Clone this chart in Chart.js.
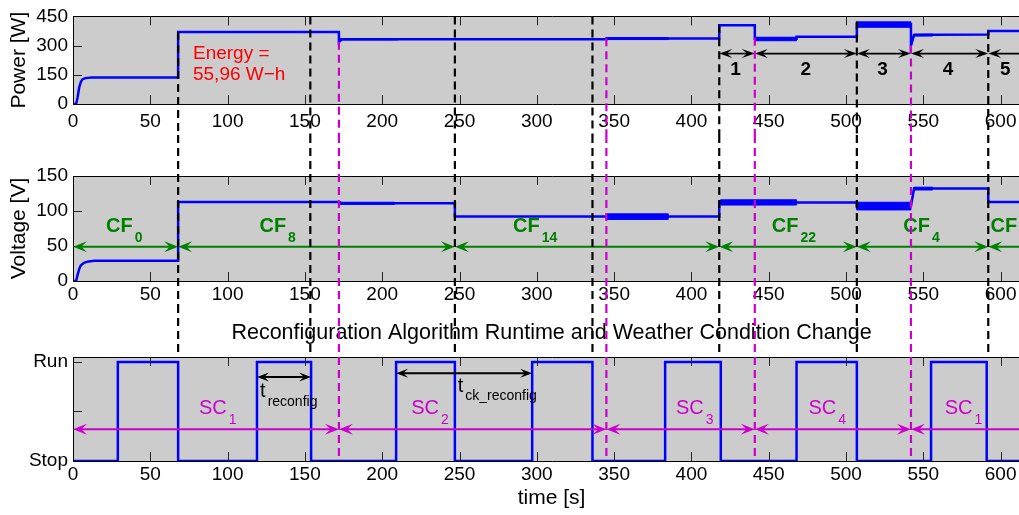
<!DOCTYPE html>
<html>
<head>
<meta charset="utf-8">
<script src="https://cdn.jsdelivr.net/npm/chart.js@4.4.0/dist/chart.umd.min.js"></script>
<style>
  html, body { margin: 0; padding: 0; background: #fff; overflow: hidden; }
  #wrap { position: relative; width: 1019px; height: 515px; overflow: hidden; }
  canvas { position: absolute; left: 0; }
</style>
</head>
<body>
<div id="wrap">
  <canvas id="powerChart" width="1030" height="135" style="top:0px"></canvas>
  <canvas id="voltChart" width="1030" height="170" style="top:135px"></canvas>
  <canvas id="runChart" width="1030" height="210" style="top:305px"></canvas>
</div>
<script>
// Potência [W] ao longo do tempo [s]
const powerTime = [0, 2, 3, 4, 5, 6, 8, 12, 68, 68, 172, 172, 174, 345, 345, 418, 418, 441, 441, 468, 468, 507, 507, 542, 542, 544, 556, 592, 592, 625];
const powerW    = [0, 0, 35, 85, 112, 126, 133, 136, 136, 370, 370, 318, 332, 332, 337, 337, 405, 405, 335, 335, 345, 345, 410, 410, 300, 354, 356, 357, 375, 375];
// trechos com oscilação rápida (faixa min/max)
const powerBandStart = [172, 345, 441, 507, 544];
const powerBandEnd   = [210, 385, 468, 542, 556];
const powerBandLow   = [329, 331, 325, 394, 349];
const powerBandHigh  = [336, 341, 343, 422, 359];

// Tensão [V]
const voltTime = [0, 2, 3, 4, 5, 7, 10, 14, 68, 68, 172, 174, 247, 247, 418, 418, 507, 507, 542, 544, 592, 592, 625];
const voltV    = [0, 0, 9, 17, 22, 26, 28, 29, 29, 113, 113, 111, 111, 92, 92, 112, 112, 107, 107, 132, 132, 113, 113];
const voltBandStart = [172, 345, 419, 507, 544];
const voltBandEnd   = [208, 385, 468, 542, 556];
const voltBandLow   = [109.5, 88, 108.5, 101.5, 130];
const voltBandHigh  = [112.5, 96, 116, 112.5, 134];

// Algoritmo de reconfiguração: 0 = Stop, 1 = Run
const runTime  = [0, 29, 68, 119, 154, 209, 247, 297, 336, 383, 419, 468, 507, 555, 591, 625];
const runState = [0, 1, 0, 1, 0, 1, 0, 1, 0, 1, 0, 1, 0, 1, 0, 0];
const runTickLabels = ['Stop', '', 'Run'];

// Eventos (linhas tracejadas)
const reconfigTimes = [68, 153.5, 247, 336, 418, 507, 592];
const reconfigTopW  = [370, 450, 450, 450, 405, 424, 375];
const weatherTimes  = [172, 345, 441, 542];
const weatherTopW   = [320, 338, 340, 300];

// Intervalos e configurações
const intervalEdges  = [418, 441, 507, 542, 592, 650];
const intervalLabels = ['1', '2', '3', '4', '5'];
const cfEdges = [0, 68, 247, 418, 507, 592, 650];
const cfSubs  = ['0', '8', '14', '22', '4', '8'];
const scEdges = [0, 172, 345, 441, 542, 650];
const scSubs  = ['1', '2', '3', '4', '1'];

const FONT = "'Liberation Sans', Arial, sans-serif";
const BLUE = '#0000ff';
const MAG = '#cc00cc';
const GREEN = '#008000';
const X_MAX = 619;

Chart.defaults.font.family = FONT;
Chart.defaults.color = '#000';

const pts = (xs, ys) => xs.map((x, i) => ({ x: x, y: ys[i] }));

const bandSets = (start, end, low, high) => start.map((t0, i) => ({
  data: [{x: t0, y: low[i]}, {x: end[i], y: low[i]}, {x: end[i], y: high[i]}, {x: t0, y: high[i]}, {x: t0, y: low[i]}],
  borderColor: BLUE, backgroundColor: BLUE, borderWidth: 1, fill: 'shape', pointRadius: 0
}));

function dashed(ctx, x, y0, y1, color) {
  ctx.save();
  ctx.strokeStyle = color;
  ctx.lineWidth = 2.2;
  ctx.setLineDash([8, 5]);
  ctx.beginPath();
  ctx.moveTo(x, y0);
  ctx.lineTo(x, y1);
  ctx.stroke();
  ctx.restore();
}

function head(ctx, x, y, dir, L, W) {
  ctx.beginPath();
  ctx.moveTo(x, y);
  ctx.lineTo(x - dir * L, y - W);
  ctx.lineTo(x - dir * L * 0.6, y);
  ctx.lineTo(x - dir * L, y + W);
  ctx.closePath();
  ctx.fill();
}

function arrow(ctx, x0, x1, y, color, lw, L, W) {
  ctx.save();
  ctx.strokeStyle = color;
  ctx.fillStyle = color;
  ctx.lineWidth = lw;
  ctx.beginPath();
  ctx.moveTo(x0 + L * 0.5, y);
  ctx.lineTo(x1 - L * 0.5, y);
  ctx.stroke();
  head(ctx, x0, y, -1, L, W);
  head(ctx, x1, y, 1, L, W);
  ctx.restore();
}

function subText(ctx, x, y, ySub, main, sub, color, size, subSize, bold) {
  ctx.save();
  ctx.fillStyle = color;
  ctx.textBaseline = 'alphabetic';
  ctx.textAlign = 'left';
  const w = bold ? 'bold ' : '';
  ctx.font = w + size + 'px ' + FONT;
  ctx.fillText(main, x, y);
  const mw = ctx.measureText(main).width;
  ctx.font = w + subSize + 'px ' + FONT;
  ctx.fillText(sub, x + mw + 2, ySub);
  ctx.restore();
}

// fundo cinza, moldura e marcas internas (estilo MATLAB)
const framePlugin = {
  id: 'frame',
  beforeDraw(chart) {
    const { ctx, chartArea: a } = chart;
    ctx.save();
    ctx.fillStyle = '#cccccc';
    ctx.fillRect(a.left, a.top, a.right - a.left + 20, a.bottom - a.top);
    ctx.restore();
  },
  afterDatasetsDraw(chart) {
    const { ctx, chartArea: a } = chart;
    ctx.save();
    ctx.strokeStyle = '#262626';
    ctx.lineWidth = 1;
    ctx.beginPath();
    chart.scales.x.ticks.forEach((t) => {
      const x = Math.round(chart.scales.x.getPixelForValue(t.value)) + 0.5;
      ctx.moveTo(x, a.bottom);
      ctx.lineTo(x, a.bottom - 9);
      ctx.moveTo(x, a.top);
      ctx.lineTo(x, a.top + 9);
    });
    chart.scales.y.ticks.forEach((t) => {
      const y = Math.round(chart.scales.y.getPixelForValue(t.value)) + 0.5;
      ctx.moveTo(a.left, y);
      ctx.lineTo(a.left + 9, y);
    });
    ctx.stroke();
    ctx.strokeStyle = '#000';
    ctx.beginPath();
    ctx.moveTo(a.right + 20, Math.round(a.top) + 0.5);
    ctx.lineTo(Math.round(a.left) + 0.5, Math.round(a.top) + 0.5);
    ctx.lineTo(Math.round(a.left) + 0.5, Math.round(a.bottom) + 0.5);
    ctx.lineTo(a.right + 20, Math.round(a.bottom) + 0.5);
    ctx.stroke();
    ctx.restore();
  }
};

function makeChart(id, cfg) {
  return new Chart(document.getElementById(id), {
    type: 'line',
    data: { datasets: cfg.datasets },
    options: {
      responsive: false,
      animation: false,
      devicePixelRatio: 1,
      layout: { padding: { top: cfg.padTop, left: 0, right: 0, bottom: 0 } },
      elements: { point: { radius: 0 }, line: { tension: 0 } },
      plugins: {
        legend: { display: false },
        tooltip: { enabled: false },
        title: cfg.title || { display: false }
      },
      scales: {
        x: {
          type: 'linear',
          min: 0,
          max: X_MAX,
          grid: { display: false, drawTicks: false },
          border: { display: false },
          ticks: { stepSize: 50, includeBounds: false, padding: cfg.xPad, maxRotation: 0, autoSkip: false, font: { size: 19 }, color: '#000' },
          title: cfg.xTitle || { display: false },
          afterFit: (s) => { s.height = cfg.xHeight; }
        },
        y: {
          min: cfg.yMin,
          max: cfg.yMax,
          grid: { display: false, drawTicks: false },
          border: { display: false },
          ticks: Object.assign({ stepSize: cfg.yStep, includeBounds: false, padding: 5, font: { size: 19 }, color: '#000' }, cfg.yTicks || {}),
          title: cfg.yTitle || { display: false },
          afterFit: (s) => { s.width = 73; }
        }
      }
    },
    plugins: [framePlugin, cfg.extra]
  });
}

// Gráfico 1: potência
makeChart('powerChart', {
  padTop: 15, xHeight: 31, xPad: 6, yMin: 0, yMax: 450, yStep: 150,
  yTitle: { display: true, text: 'Power [W]', font: { size: 21 }, color: '#000', padding: { top: 7, bottom: 0 } },
  datasets: [
    { data: pts(powerTime, powerW), borderColor: BLUE, borderWidth: 2.5, fill: false, pointRadius: 0 }
  ].concat(bandSets(powerBandStart, powerBandEnd, powerBandLow, powerBandHigh)),
  extra: {
    id: 'powerExtra',
    afterDatasetsDraw(chart) {
      const ctx = chart.ctx;
      const X = (v) => chart.scales.x.getPixelForValue(v);
      const Y = (v) => chart.scales.y.getPixelForValue(v);
      ctx.save();
      ctx.fillStyle = '#ff0000';
      ctx.font = '19px ' + FONT;
      ctx.textBaseline = 'alphabetic';
      ctx.fillText('Energy =', X(77.6), Y(233));
      ctx.fillText('55,96 W\u2212h', X(77.6), Y(121));
      for (let i = 0; i < intervalLabels.length; i++) {
        arrow(ctx, X(intervalEdges[i]), X(intervalEdges[i + 1]), Y(259), '#000', 1.6, 13, 4.5);
      }
      ctx.fillStyle = '#000';
      ctx.font = 'bold 19px ' + FONT;
      ctx.textAlign = 'center';
      const labelT = [428.5, 474, 523.6, 566, 603];
      intervalLabels.forEach((s, i) => ctx.fillText(s, X(labelT[i]), Y(147)));
      ctx.restore();
    },
    afterDraw(chart) {
      const X = (v) => chart.scales.x.getPixelForValue(v);
      const Y = (v) => chart.scales.y.getPixelForValue(v);
      const h = chart.height;
      reconfigTimes.forEach((t, i) => dashed(chart.ctx, X(t), Y(reconfigTopW[i]), h, '#000'));
      weatherTimes.forEach((t, i) => dashed(chart.ctx, X(t), Y(weatherTopW[i]), h, MAG));
    }
  }
});

// Gráfico 2: tensão
makeChart('voltChart', {
  padTop: 41, xHeight: 24, xPad: 2, yMin: 0, yMax: 150, yStep: 50,
  yTitle: { display: true, text: 'Voltage [V]', font: { size: 21 }, color: '#000', padding: { top: 7, bottom: 0 } },
  datasets: [
    { data: pts(voltTime, voltV), borderColor: BLUE, borderWidth: 2.5, fill: false, pointRadius: 0 }
  ].concat(bandSets(voltBandStart, voltBandEnd, voltBandLow, voltBandHigh)),
  extra: {
    id: 'voltExtra',
    afterDatasetsDraw(chart) {
      const ctx = chart.ctx;
      const X = (v) => chart.scales.x.getPixelForValue(v);
      const Y = (v) => chart.scales.y.getPixelForValue(v);
      for (let i = 0; i < cfSubs.length; i++) {
        arrow(ctx, X(cfEdges[i]), X(cfEdges[i + 1]), Y(49), GREEN, 2, 14, 5.5);
      }
      const labelT = [21.4, 120.6, 284.6, 452, 537, 593.5];
      cfSubs.forEach((s, i) => subText(ctx, X(labelT[i]), Y(70), Y(56), 'CF', s, GREEN, 20, 14, true));
    },
    afterDraw(chart) {
      const X = (v) => chart.scales.x.getPixelForValue(v);
      const h = chart.height;
      reconfigTimes.forEach((t) => dashed(chart.ctx, X(t), 0, h, '#000'));
      weatherTimes.forEach((t) => dashed(chart.ctx, X(t), 0, h, MAG));
    }
  }
});

// Gráfico 3: execução do algoritmo
makeChart('runChart', {
  padTop: 0, xHeight: 54, xPad: 2, yMin: 0, yMax: 1.05, yStep: 0.5,
  yTicks: { callback: (v, i) => runTickLabels[i] },
  title: { display: true, fullSize: false, text: 'Reconfiguration Algorithm Runtime and Weather Condition Change',
           font: { size: 21.5, weight: 'normal', lineHeight: 1.2 }, color: '#000', padding: { top: 15.1, bottom: 11.1 } },
  xTitle: { display: true, text: 'time [s]', font: { size: 21 }, color: '#000', padding: { top: 0, bottom: 4.4 } },
  datasets: [
    { data: pts(runTime, runState), borderColor: BLUE, borderWidth: 2.5, fill: false, pointRadius: 0, stepped: 'before' }
  ],
  extra: {
    id: 'runExtra',
    afterDatasetsDraw(chart) {
      const ctx = chart.ctx;
      const X = (v) => chart.scales.x.getPixelForValue(v);
      const Y = (v) => chart.scales.y.getPixelForValue(v);
      for (let i = 0; i < scSubs.length; i++) {
        arrow(ctx, X(scEdges[i]), X(scEdges[i + 1]), Y(0.32), MAG, 2, 14, 5.5);
      }
      const labelT = [81.5, 218.8, 390, 475.7, 563.8];
      scSubs.forEach((s, i) => subText(ctx, X(labelT[i]), Y(0.475), Y(0.374), 'SC', s, MAG, 20, 14, false));
      arrow(ctx, X(119), X(154), Y(0.848), '#000', 2, 12, 4.5);
      arrow(ctx, X(209), X(297), Y(0.886), '#000', 2, 12, 4.5);
      subText(ctx, X(121), Y(0.646), Y(0.556), 't', 'reconfig', '#000', 20, 14, false);
      subText(ctx, X(248.8), Y(0.70), Y(0.616), 't', 'ck_reconfig', '#000', 20, 14, false);
    },
    afterDraw(chart) {
      const X = (v) => chart.scales.x.getPixelForValue(v);
      const Y = (v) => chart.scales.y.getPixelForValue(v);
      const top = chart.chartArea.top;
      reconfigTimes.forEach((t) => dashed(chart.ctx, X(t), 0, top - 2, '#000'));
      weatherTimes.forEach((t) => dashed(chart.ctx, X(t), 0, Y(0), MAG));
    }
  }
});
</script>
</body>
</html>
